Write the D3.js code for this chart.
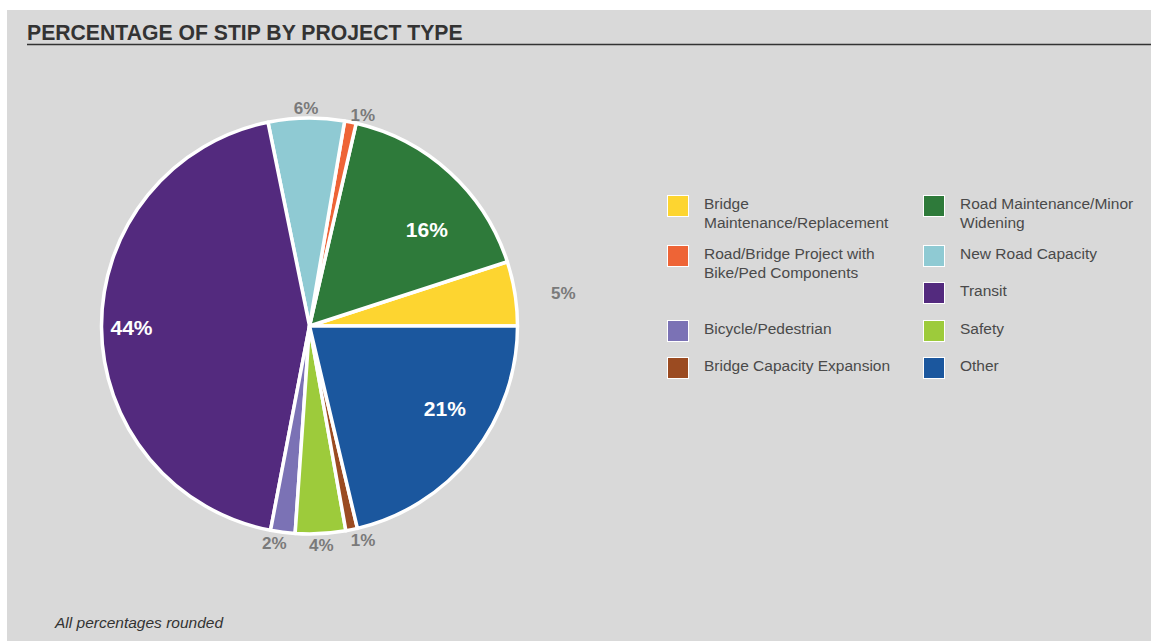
<!DOCTYPE html>
<html>
<head>
<meta charset="utf-8">
<script src="https://cdn.jsdelivr.net/npm/d3@7"></script>
<style>
  body { margin: 0; background: #fff; }
  svg { display: block; font-family: "Liberation Sans", Arial, sans-serif; }
</style>
</head>
<body>
<div id="chart"></div>
<script>
// data, in drawing order (counterclockwise from 3 o'clock)
const categories = [
  "Bridge Maintenance/Replacement",
  "Road Maintenance/Minor Widening",
  "Road/Bridge Project with Bike/Ped Components",
  "New Road Capacity",
  "Transit",
  "Bicycle/Pedestrian",
  "Safety",
  "Bridge Capacity Expansion",
  "Other"
];
const shares = [5.0, 16.4, 0.9, 5.9, 43.8, 1.9, 3.9, 0.9, 21.3];
const colors = ["#fdd530", "#2e7a3a", "#ee6436", "#8fcad3", "#532a7e", "#7b72b5", "#9dcb3b", "#9b4b21", "#1b579e"];

// legend text split into lines
const legendLines = [
  ["Bridge", "Maintenance/Replacement"],
  ["Road Maintenance/Minor", "Widening"],
  ["Road/Bridge Project with", "Bike/Ped Components"],
  ["New Road Capacity"],
  ["Transit"],
  ["Bicycle/Pedestrian"],
  ["Safety"],
  ["Bridge Capacity Expansion"],
  ["Other"]
];
const legendCol = [0, 1, 0, 1, 1, 0, 1, 0, 1];
const legendRow = [0, 0, 1, 1, 2, 3, 3, 4, 4];

const W = 1151, H = 641;
const cx = 309.5, cy = 326, R = 208;

const svg = d3.select("#chart").append("svg")
  .attr("width", W).attr("height", H);

// panel
svg.append("rect")
  .attr("x", 7).attr("y", 10)
  .attr("width", W - 7).attr("height", H - 10)
  .attr("fill", "#d9d9d9");

svg.append("text")
  .attr("x", 27).attr("y", 40)
  .attr("font-size", 21.2).attr("font-weight", "bold")
  .attr("fill", "#333")
  .text("PERCENTAGE OF STIP BY PROJECT TYPE");

svg.append("line")
  .attr("x1", 27).attr("x2", W)
  .attr("y1", 44.5).attr("y2", 44.5)
  .attr("stroke", "#333").attr("stroke-width", 1.3);

// pie
const pie = d3.pie().sort(null).value(d => d)
  .startAngle(Math.PI / 2)
  .endAngle(Math.PI / 2 - 2 * Math.PI);
const arcs = pie(shares);

const arc = d3.arc().innerRadius(0).outerRadius(R);

const g = svg.append("g").attr("transform", `translate(${cx},${cy})`);

g.selectAll("path")
  .data(arcs)
  .enter().append("path")
  .attr("d", arc)
  .attr("fill", (d, i) => colors[i])
  .attr("stroke", "#fff")
  .attr("stroke-width", 3.5)
  .attr("stroke-linejoin", "round");

// labels: big slices inside, small ones just outside the rim
const inner = d3.arc().innerRadius(R * 0.75).outerRadius(R * 0.75);
const extraPush = {"Bridge Maintenance/Replacement": 36};
// small hand tweaks so labels sit where the original placed them
const nudge = [[1, 8], [12, 19], [10, 5], [0, 2], [-22, 1], [-7, -1], [0, 0], [9, -1], [13, -14]];

g.selectAll("text.lbl")
  .data(arcs)
  .enter().append("text")
  .attr("class", "lbl")
  .attr("text-anchor", "middle")
  .attr("dominant-baseline", "central")
  .attr("font-weight", "bold")
  .attr("font-size", d => d.value > 10 ? 21 : 17)
  .attr("fill", d => d.value > 10 ? "#fff" : "#7a7a7a")
  .attr("transform", (d, i) => {
    let x, y;
    if (d.value > 10) {
      [x, y] = inner.centroid(d);
    } else {
      const r = R + 12 + (extraPush[categories[i]] || 0);
      const a = (d.startAngle + d.endAngle) / 2;
      x = r * Math.sin(a);
      y = -r * Math.cos(a);
    }
    return `translate(${x + nudge[i][0]},${y + nudge[i][1]})`;
  })
  .text(d => Math.round(d.value) + "%");

// legend
const colX = [667, 923];
const rowY = [195, 245, 282, 320, 357];

const leg = svg.append("g");
const items = leg.selectAll("g")
  .data(categories)
  .enter().append("g")
  .attr("transform", (d, i) => `translate(${colX[legendCol[i]]},${rowY[legendRow[i]]})`);

items.append("rect")
  .attr("x", 0.5).attr("y", 0.5)
  .attr("width", 21).attr("height", 21)
  .attr("fill", (d, i) => colors[i])
  .attr("stroke", "#fff").attr("stroke-width", 1);

items.append("text")
  .attr("x", 37).attr("y", 14)
  .attr("font-size", 15.5)
  .attr("fill", "#4a4a4a")
  .selectAll("tspan")
  .data((d, i) => legendLines[i])
  .enter().append("tspan")
  .attr("x", 37)
  .attr("dy", (d, j) => j === 0 ? 0 : 19)
  .text(d => d);

svg.append("text")
  .attr("x", 55).attr("y", 628)
  .attr("font-size", 15.5).attr("font-style", "italic")
  .attr("fill", "#333")
  .text("All percentages rounded");
</script>
</body>
</html>
